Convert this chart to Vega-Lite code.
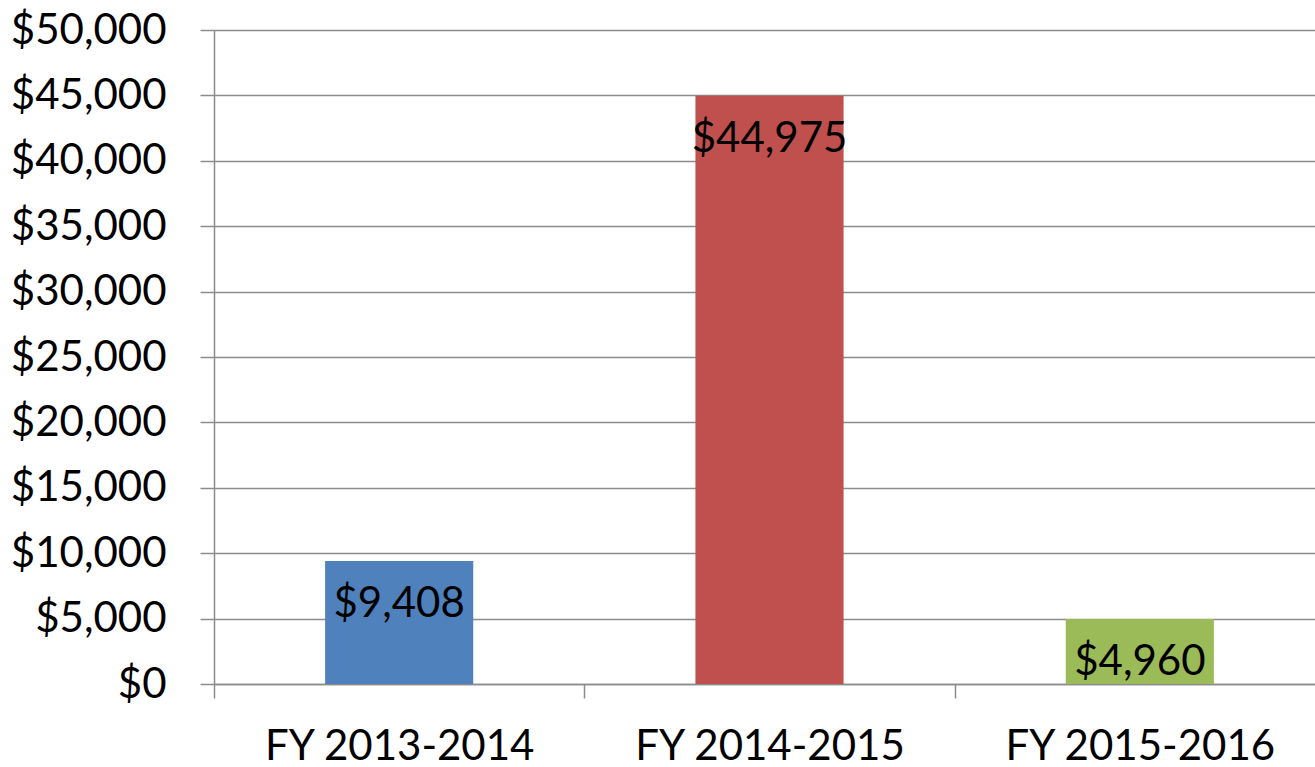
{
  "$schema": "https://vega.github.io/schema/vega-lite/v6.json",
  "autosize": "none",
  "width": 1111,
  "height": 654,
  "padding": {"left": 214, "top": 30, "right": 0, "bottom": 83},
  "background": "white",
  "config": {"view": {"stroke": null}, "font": "Lato"},
  "data": {"values": [
    {"year": "FY 2013-2014", "value": 9408},
    {"year": "FY 2014-2015", "value": 44975},
    {"year": "FY 2015-2016", "value": 4960}
  ]},
  "encoding": {
    "x": {
      "field": "year", "type": "nominal", "sort": null,
      "scale": {"paddingInner": 0, "paddingOuter": 0},
      "axis": {
        "title": null, "labelAngle": 0, "tickBand": "extent", "tickSize": 14,
        "tickColor": "#8c8c8c", "tickWidth": 1.5, "domainColor": "#8c8c8c", "domainWidth": 1.5,
        "labelFontSize": 42, "labelColor": "black", "labelPadding": 28, "labelLimit": 0, "grid": false
      }
    },
    "y": {
      "field": "value", "type": "quantitative",
      "scale": {"domain": [0, 50000], "nice": false},
      "axis": {
        "title": null, "values": [0, 5000, 10000, 15000, 20000, 25000, 30000, 35000, 40000, 45000, 50000],
        "format": "$,.0f", "labelFontSize": 42, "labelColor": "black", "labelPadding": 34, "labelLimit": 0,
        "tickSize": 14, "tickColor": "#8c8c8c", "tickWidth": 1.5, "domainColor": "#8c8c8c", "domainWidth": 1.5,
        "grid": true, "gridColor": "#8c8c8c", "gridWidth": 1.5
      }
    }
  },
  "layer": [
    {
      "mark": {"type": "bar", "width": {"band": 0.4}},
      "encoding": {
        "color": {"field": "year", "type": "nominal", "sort": null,
          "scale": {"range": ["#4F81BD", "#C0504D", "#9BBB59"]}, "legend": null}
      }
    },
    {
      "mark": {"type": "text", "baseline": "middle", "dy": 43, "fontSize": 42, "color": "black"},
      "encoding": {"text": {"field": "value", "type": "quantitative", "format": "$,.0f"}}
    }
  ]
}
